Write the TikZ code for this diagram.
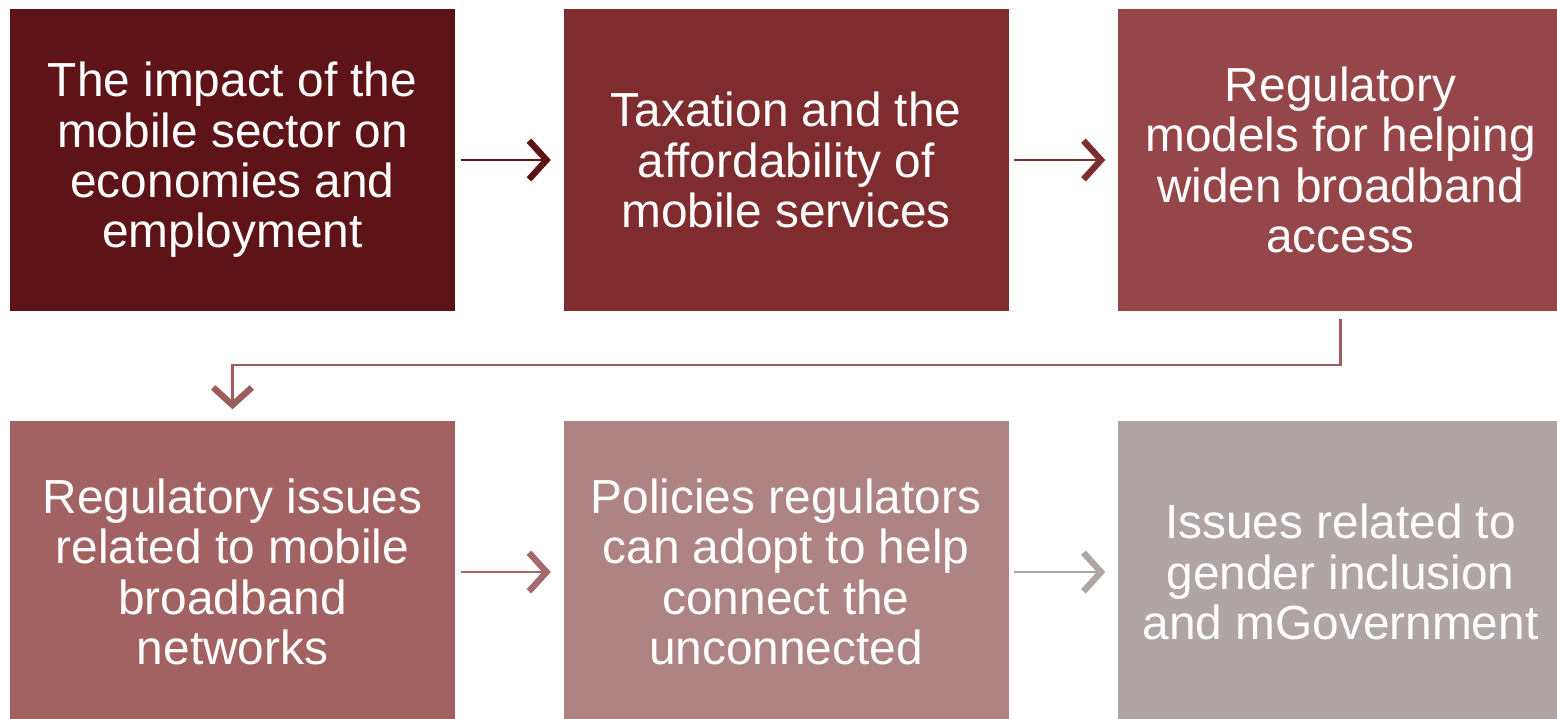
\documentclass[tikz,border=0pt]{standalone}
\usepackage{fontspec}
\setmainfont{Liberation Sans}
\usetikzlibrary{arrows.meta, positioning, calc}
\usepackage{xcolor}

\definecolor{stepA}{HTML}{5E1416}
\definecolor{stepB}{HTML}{7E2C2E}
\definecolor{stepC}{HTML}{954648}
\definecolor{stepD}{HTML}{A36262}
\definecolor{stepE}{HTML}{AD8383}
\definecolor{stepF}{HTML}{AFA5A5}

\begin{document}
\begin{tikzpicture}[
        topic/.style={rectangle, minimum width=4.45cm, minimum height=3.02cm, align=center, text=white, inner sep=0pt, font=\fontsize{13.6}{14.3}\selectfont},
        arrow/.style={-{Straight Barb[length=5pt, width=11pt, line width=1.8pt]}, line width=0.8pt, shorten <=0.05cm, shorten >=0.12cm}
    ]
        \useasboundingbox (0,0) rectangle (15.57,-7.18);

        % Top row
        \node[topic, fill=stepA] (impact) at (2.325, -1.60) {The impact of the\\mobile sector on\\economies and\\employment};
        \node[topic, fill=stepB] (tax) at (7.86, -1.60) {Taxation and the\\affordability of\\mobile services};
        \node[topic, fill=stepC] (models) at (13.405, -1.60) {Regulatory\\models for helping\\widen broadband\\access};

        % Bottom row
        \node[topic, fill=stepD] (issues) at (2.325, -5.72) {Regulatory issues\\related to mobile\\broadband\\networks};
        \node[topic, fill=stepE] (policies) at (7.86, -5.72) {Policies regulators\\can adopt to help\\connect the\\unconnected};
        \node[topic, fill=stepF] (gender) at (13.405, -5.72) {Issues related to\\gender inclusion\\and mGovernment};

        % Arrows
        \draw[arrow, stepA] (impact) -- (tax);
        \draw[arrow, stepB] (tax) -- (models);
        \coordinate (bend) at (13.405, -3.65);
        \draw[arrow, stepD!95!black, shorten <=0.07cm, shorten >=0.11cm] (models.south) -- (bend) -| (issues.north);
        \draw[arrow, stepD!80!stepE] (issues) -- (policies);
        \draw[arrow, stepF] (policies) -- (gender);
    \end{tikzpicture}
\end{document}
